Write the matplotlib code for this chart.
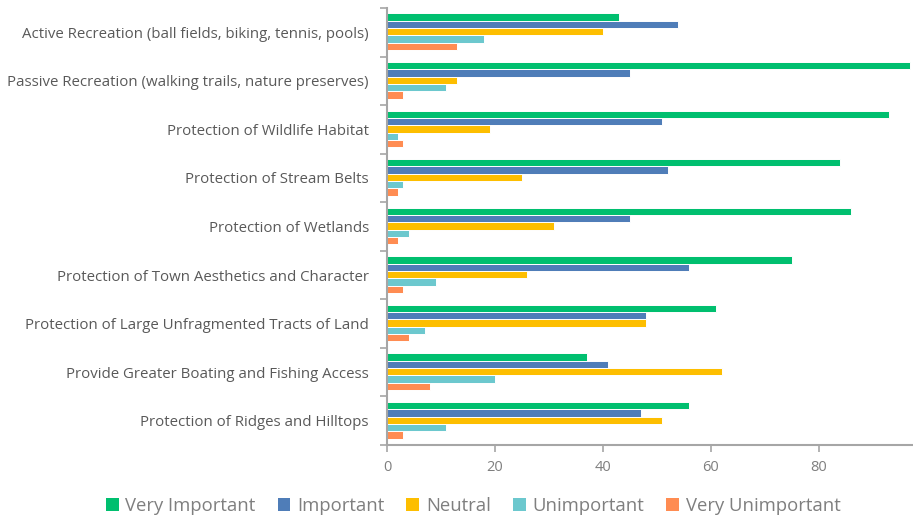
import matplotlib
matplotlib.use("Agg")
import matplotlib.pyplot as plt
import numpy as np

categories = [
    "Active Recreation (ball fields, biking, tennis, pools)",
    "Passive Recreation (walking trails, nature preserves)",
    "Protection of Wildlife Habitat",
    "Protection of Stream Belts",
    "Protection of Wetlands",
    "Protection of Town Aesthetics and Character",
    "Protection of Large Unfragmented Tracts of Land",
    "Provide Greater Boating and Fishing Access",
    "Protection of Ridges and Hilltops",
]
series_names = ["Very Important", "Important", "Neutral", "Unimportant", "Very Unimportant"]
very_important = [43, 97, 93, 84, 86, 75, 61, 37, 56]
important = [54, 45, 51, 52, 45, 56, 48, 41, 47]
neutral = [40, 13, 19, 25, 31, 26, 48, 62, 51]
unimportant = [18, 11, 2, 3, 4, 9, 7, 20, 11]
very_unimportant = [13, 3, 3, 2, 2, 3, 4, 8, 3]
xticks = [0, 20, 40, 60, 80]

colors = ["#00BF6F", "#4F7DB8", "#FDBE00", "#6CC8CE", "#FF8C52"]
series = [very_important, important, neutral, unimportant, very_unimportant]

plt.rcParams['font.family'] = ['Open Sans', 'DejaVu Sans']
fig = plt.figure(figsize=(9.13, 5.17), dpi=100)
ax = fig.add_axes([387/913, 1 - 445/517, (912-387)/913, (445-8)/517])

n = len(categories)
y = np.arange(n)
h = 0.151
for i, (vals, c, name) in enumerate(zip(series, colors, series_names)):
    ax.barh(y - 2*h + i*h - 0.01, vals, height=h, color=c, edgecolor="white",
            linewidth=0.7, label=name)

ax.set_ylim(n - 0.5, -0.5)
ax.set_xlim(0, 97.3)
ax.set_yticks(np.arange(-0.5, n, 1), minor=False)
ax.set_yticklabels([])
ax.set_yticks(y, minor=True)
ax.set_yticklabels(categories, minor=True)
ax.tick_params(axis='y', which='minor', length=0, pad=13, labelsize=10.8, labelcolor="#595959")
ax.tick_params(axis='y', which='major', length=5, color="#A6A6A6", width=1.2)
ax.set_xticks(xticks)
ax.tick_params(axis='x', length=5, color="#A6A6A6", width=1.2, labelsize=10.5, labelcolor="#7F7F7F", pad=6)

for s in ["top", "right"]:
    ax.spines[s].set_visible(False)
for s in ["left", "bottom"]:
    ax.spines[s].set_color("#A6A6A6")
    ax.spines[s].set_linewidth(1.5)

leg = fig.legend(loc="center", bbox_to_anchor=(473/913, 1 - 506/517), ncol=5, frameon=False,
                 fontsize=13.3, handlelength=0.7, handleheight=0.7, handletextpad=0.35,
                 columnspacing=1.2, labelcolor="#7F7F7F")
for hnd in leg.legend_handles:
    hnd.set_edgecolor("none")

fig.savefig("out.png", dpi=100)
